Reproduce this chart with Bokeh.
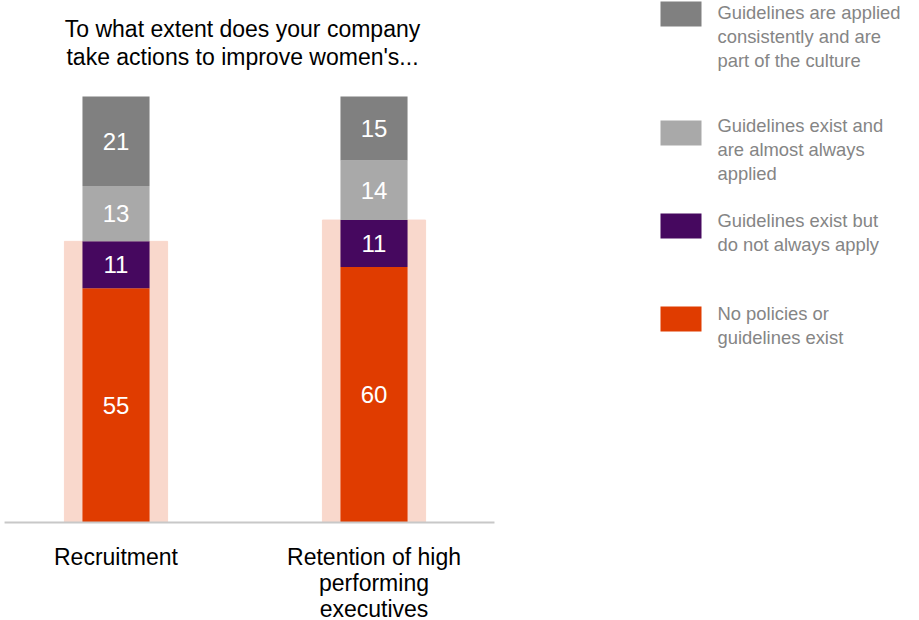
import numpy as np
from bokeh.plotting import figure
from bokeh.models import ColumnDataSource, Range1d
from bokeh.core.properties import value
from bokeh.embed import file_html
from bokeh.resources import INLINE

# ---- data ----
categories = ["Recruitment", "Retention of high\nperforming\nexecutives"]
series = [
    "No policies or\nguidelines exist",
    "Guidelines exist but\ndo not always apply",
    "Guidelines exist and\nare almost always\napplied",
    "Guidelines are applied\nconsistently and are\npart of the culture",
]
no_policies = [55, 60]
not_always = [11, 11]
almost_always = [13, 14]
consistently = [21, 15]
highlight = [66, 71]
colors = ["#e03c00", "#46085f", "#a9a9a9", "#808080"]
title_text = "To what extent does your company\ntake actions to improve women's..."

FONT = "Liberation Sans"
W, H = 919, 620

xs = list(range(len(categories)))
values_by_series = [no_policies, not_always, almost_always, consistently]
keys = ["s0", "s1", "s2", "s3"]
src = ColumnDataSource(dict(x=xs, hl=highlight, cat=categories,
                            **{k: v for k, v in zip(keys, values_by_series)}))

p = figure(width=W, height=H, output_backend="svg", toolbar_location=None,
           x_range=Range1d(-0.4477, 3.1143), y_range=Range1d(-23.0, 122.54),
           min_border=0)
# pixel-unit ranges for the title and legend block
p.extra_x_ranges = {"px": Range1d(0, W)}
p.extra_y_ranges = {"py": Range1d(H, 0)}
p.axis.visible = False
p.grid.visible = False
p.outline_line_color = None
p.background_fill_color = None
p.border_fill_color = None

# highlight band behind the bars
p.vbar(x="x", top="hl", bottom=0, width=0.40, color="#f9d8cc", source=src)
# stacked bars
p.vbar_stack(keys, x="x", width=0.26, color=colors, source=src, line_color=None)

# segment labels
lx, ly, lt = [], [], []
cum = np.zeros(len(categories))
for vals in values_by_series:
    v = np.array(vals, dtype=float)
    for i in range(len(categories)):
        lx.append(xs[i]); ly.append(cum[i] + v[i] / 2); lt.append(str(vals[i]))
    cum += v
p.text(x=lx, y=ly, text=lt, text_font=value(FONT), text_font_size="24px",
       text_color="white", text_align="center", text_baseline="middle")

# baseline
p.segment(x0=[min(xs) - 0.432], x1=[max(xs) + 0.467], y0=[0], y1=[0],
          line_color="#c8c8c8", line_width=2)

# category labels
p.text(x="x", y=0, text="cat", source=src, y_offset=21.5, text_font=value(FONT),
       text_font_size="23px", text_color="#000000", text_align="center",
       text_baseline="top", text_line_height=1.0)

# title
p.text(x=[242], y=[15.5], text=[title_text], x_range_name="px", y_range_name="py",
       text_font=value(FONT), text_font_size="23px", text_color="#000000",
       text_align="center", text_baseline="top", text_line_height=1.06)

# legend block
order = [3, 2, 1, 0]
sw_top = [1, 120, 213, 306]
txt_top = [1.5, 114.5, 209.5, 302.5]
p.rect(x=[680.5] * 4, y=[t + 12.5 for t in sw_top], width=41, height=25,
       x_range_name="px", y_range_name="py",
       color=[colors[i] for i in order], line_color=None)
p.text(x=[717] * 4, y=txt_top, text=[series[i] for i in order],
       x_range_name="px", y_range_name="py",
       text_font=value(FONT), text_font_size="18.4px", text_color="#858585",
       text_align="left", text_baseline="top", text_line_height=1.137)

open("out.html", "w").write(file_html(p, INLINE))
